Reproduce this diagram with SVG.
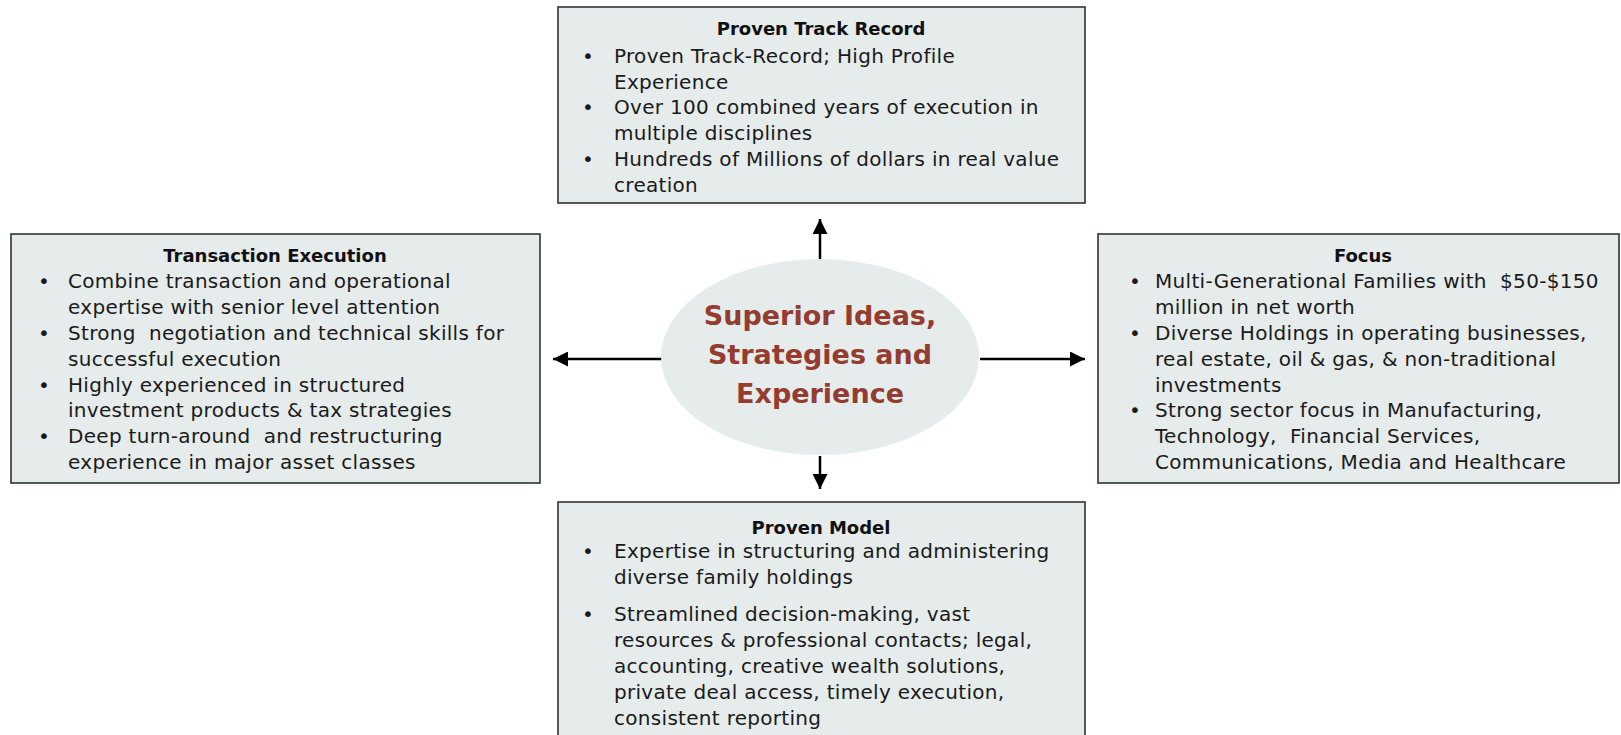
<svg xmlns="http://www.w3.org/2000/svg" width="1621" height="735" viewBox="0 0 1621 735">
  <style>
    .box { fill: #e6ebeb; stroke: #333333; stroke-width: 1.6; }
    .hub { fill: #e6ebeb; stroke: none; }
    text { white-space: pre; }
    .title { font-family: "DejaVu Sans", sans-serif; font-weight: bold; font-size: 18px; fill: #111111; text-anchor: middle; }
    .item { font-family: "DejaVu Sans", sans-serif; font-size: 20px; letter-spacing: 0.3px; fill: #1a1a1a; }
    .hubtext { font-family: "DejaVu Sans", sans-serif; font-weight: bold; font-size: 27px; fill: #943c2f; text-anchor: middle; }
    .conn { stroke: #000000; stroke-width: 2.5; fill: none; marker-end: url(#head); }
  </style>
  <defs>
    <marker id="head" viewBox="0 0 10 10" refX="10" refY="5" markerWidth="6" markerHeight="6" markerUnits="strokeWidth" orient="auto">
      <path d="M0,0 L10,5 L0,10 Z" fill="#000000"/>
    </marker>
  </defs>

  <rect width="1621" height="735" fill="#ffffff"/>

  <!-- connectors from the hub out to the four boxes -->
  <g id="connectors">
    <line class="conn" x1="820" y1="259" x2="820" y2="219"/>
    <line class="conn" x1="820" y1="456" x2="820" y2="489"/>
    <line class="conn" x1="662" y1="359" x2="553" y2="359"/>
    <line class="conn" x1="980" y1="359" x2="1085" y2="359"/>
  </g>

  <g id="track-record">
    <rect class="box" x="558" y="7" width="527" height="196"/>
    <text class="title" x="821" y="35">Proven Track Record</text>
    <text class="item" x="582" y="63">•</text>
    <text class="item" x="614" y="63">Proven Track-Record; High Profile</text>
    <text class="item" x="614" y="89">Experience</text>
    <text class="item" x="582" y="114">•</text>
    <text class="item" x="614" y="114">Over 100 combined years of execution in</text>
    <text class="item" x="614" y="140">multiple disciplines</text>
    <text class="item" x="582" y="166">•</text>
    <text class="item" x="614" y="166">Hundreds of Millions of dollars in real value</text>
    <text class="item" x="614" y="192">creation</text>
  </g>

  <g id="transaction-execution">
    <rect class="box" x="11" y="234" width="529" height="249"/>
    <text class="title" x="275" y="262">Transaction Execution</text>
    <text class="item" x="38" y="288">•</text>
    <text class="item" x="68" y="288">Combine transaction and operational</text>
    <text class="item" x="68" y="314">expertise with senior level attention</text>
    <text class="item" x="38" y="340">•</text>
    <text class="item" x="68" y="340">Strong  negotiation and technical skills for</text>
    <text class="item" x="68" y="366">successful execution</text>
    <text class="item" x="38" y="392">•</text>
    <text class="item" x="68" y="392">Highly experienced in structured</text>
    <text class="item" x="68" y="417">investment products &amp; tax strategies</text>
    <text class="item" x="38" y="443">•</text>
    <text class="item" x="68" y="443">Deep turn-around  and restructuring</text>
    <text class="item" x="68" y="469">experience in major asset classes</text>
  </g>

  <g id="focus">
    <rect class="box" x="1098" y="234" width="521" height="249"/>
    <text class="title" x="1363" y="262">Focus</text>
    <text class="item" x="1129" y="288">•</text>
    <text class="item" x="1155" y="288">Multi-Generational Families with  $50-$150</text>
    <text class="item" x="1155" y="314">million in net worth</text>
    <text class="item" x="1129" y="340">•</text>
    <text class="item" x="1155" y="340">Diverse Holdings in operating businesses,</text>
    <text class="item" x="1155" y="366">real estate, oil &amp; gas, &amp; non-traditional</text>
    <text class="item" x="1155" y="392">investments</text>
    <text class="item" x="1129" y="417">•</text>
    <text class="item" x="1155" y="417">Strong sector focus in Manufacturing,</text>
    <text class="item" x="1155" y="443">Technology,  Financial Services,</text>
    <text class="item" x="1155" y="469">Communications, Media and Healthcare</text>
  </g>

  <g id="proven-model">
    <rect class="box" x="558" y="502" width="527" height="240"/>
    <text class="title" x="821" y="534">Proven Model</text>
    <text class="item" x="582" y="558">•</text>
    <text class="item" x="614" y="558">Expertise in structuring and administering</text>
    <text class="item" x="614" y="584">diverse family holdings</text>
    <text class="item" x="582" y="621">•</text>
    <text class="item" x="614" y="621">Streamlined decision-making, vast</text>
    <text class="item" x="614" y="647">resources &amp; professional contacts; legal,</text>
    <text class="item" x="614" y="673">accounting, creative wealth solutions,</text>
    <text class="item" x="614" y="699">private deal access, timely execution,</text>
    <text class="item" x="614" y="725">consistent reporting</text>
  </g>

  <g id="hub">
    <ellipse class="hub" cx="820" cy="357" rx="159" ry="98"/>
    <text class="hubtext" x="820" y="325">Superior Ideas,</text>
    <text class="hubtext" x="820" y="364">Strategies and</text>
    <text class="hubtext" x="820" y="403">Experience</text>
  </g>
</svg>
